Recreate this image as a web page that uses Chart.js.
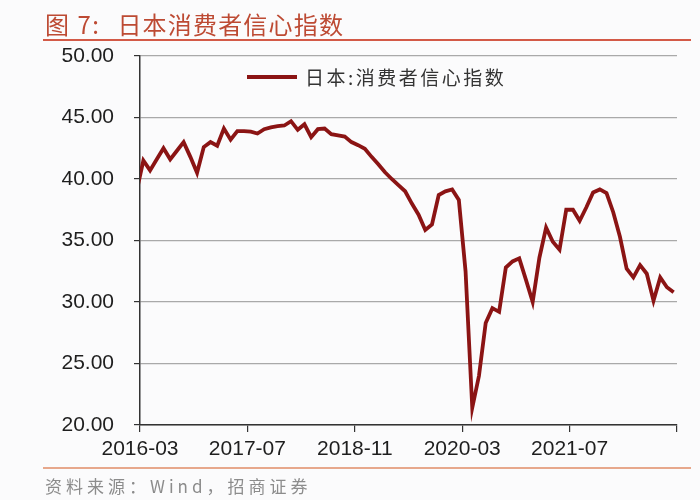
<!DOCTYPE html>
<html>
<head>
<meta charset="utf-8">
<script src="https://cdn.jsdelivr.net/npm/chart.js@4.4.1/dist/chart.umd.min.js"></script>
<style>
  body { margin: 0; background: #fbfbfc; }
  #wrap { position: relative; width: 700px; height: 500px; overflow: hidden; }
  #myChart { position: absolute; left: 0; top: 0; }
  .title { position: absolute; left: 45px; top: 6px; font: 24px "Noto Sans CJK SC", sans-serif; color: #bd4a33; letter-spacing: 1.5px; white-space: nowrap; }
  .title b { font-weight: normal; margin-left: 17px; letter-spacing: 1.2px; }
  .rule-top { position: absolute; left: 43px; top: 39px; width: 648px; height: 2px; background: #d35a47; }
  .rule-bottom { position: absolute; left: 43px; top: 467px; width: 648px; height: 2px; background: #e7a88c; }
  .source { position: absolute; left: 45px; top: 473px; font: 17px "Noto Sans CJK SC", serif; color: #8c8c8c; letter-spacing: 4px; white-space: nowrap; }
  .legend { position: absolute; left: 247px; top: 63px; white-space: nowrap; }
  .legend .swatch { display: inline-block; width: 50px; height: 4px; background: #8b1414; vertical-align: middle; margin-right: 8px; }
  .legend span { font: 19px "Noto Sans CJK SC", sans-serif; color: #333; letter-spacing: 2.5px; vertical-align: middle; }
</style>
</head>
<body>
<div id="wrap">
  <canvas id="myChart" width="700" height="500"></canvas>
  <div class="title">图 7:<b>日本消费者信心指数</b></div>
  <div class="rule-top"></div>
  <div class="legend"><i class="swatch"></i><span>日本:消费者信心指数</span></div>
  <div class="rule-bottom"></div>
  <div class="source">资料来源：Wind，招商证券</div>
</div>
<script>
// 月度数据, 从 2016-02 开始 (第一个点在坐标轴左侧, 被裁掉)
const firstMonth = '2016-02';
const confidence = [
    39.0,
    41.5, 40.7, 41.6, 42.5, 41.6, 42.3, 43.0, 41.8, 40.5, 42.6, 43.0, 42.7,
    44.1, 43.2, 43.9, 43.9, 43.85, 43.7, 44.05, 44.2, 44.3, 44.35, 44.7, 44.0,
    44.45, 43.4, 44.05, 44.1, 43.65, 43.55, 43.45, 43.0, 42.75, 42.45, 41.8, 41.2,
    40.55, 40.0, 39.5, 39.0, 38.0, 37.1, 35.85, 36.3, 38.7, 39.0, 39.15, 38.3,
    32.5, 21.4, 24.0, 28.3, 29.5, 29.2, 32.8, 33.3, 33.55, 31.8, 30.0, 33.6,
    36.05, 34.9, 34.25, 37.5, 37.5, 36.6, 37.7, 38.9, 39.15, 38.85, 37.3, 35.3,
    32.7, 32.0, 33.0, 32.3, 30.1, 32.0, 31.2, 30.8
];
const tickLabels = ['2016-03', '2017-07', '2018-11', '2020-03', '2021-07', ''];
const yTicks = [20, 25, 30, 35, 40, 45, 50];

// 每个月的点落在月份中间: 2016-02 -> -0.5, 2016-03 -> 0.5 ...
const points = confidence.map((v, i) => ({ x: i - 0.5, y: v }));

const ctx = document.getElementById('myChart').getContext('2d');
const myChart = new Chart(ctx, {
    type: 'line',
    data: {
        datasets: [
            {
                label: '日本:消费者信心指数',
                data: points,
                borderColor: '#8b1414',
                borderWidth: 3.8,
                pointRadius: 0,
                tension: 0,
                fill: false
            }
        ]
    },
    options: {
        responsive: false,
        animation: false,
        layout: { padding: { top: 56, right: 23, left: 0, bottom: 0 } },
        plugins: {
            legend: { display: false },
            tooltip: { enabled: false }
        },
        scales: {
            x: {
                type: 'linear',
                min: 0,
                max: 80,
                afterFit: function (scale) { scale.height = 75; },
                grid: { drawOnChartArea: false, color: '#333', tickLength: 7, lineWidth: 1.2 },
                border: { color: '#333', width: 1.5 },
                ticks: {
                    stepSize: 16,
                    autoSkip: false,
                    maxRotation: 0,
                    padding: 5,
                    color: '#1e1e1e',
                    font: { family: '"Liberation Sans", Arial, sans-serif', size: 21 },
                    callback: function (value) { return tickLabels[Math.round(value / 16)]; }
                }
            },
            y: {
                min: yTicks[0],
                max: yTicks[yTicks.length - 1],
                afterFit: function (scale) { scale.width = 140; },
                grid: { color: '#a9a9a9', tickColor: '#333', tickLength: 6, lineWidth: 1.2 },
                border: { color: '#333', width: 1.5 },
                ticks: {
                    stepSize: 5,
                    padding: 20,
                    color: '#1e1e1e',
                    font: { family: '"Liberation Sans", Arial, sans-serif', size: 21 },
                    callback: function (value) { return value.toFixed(2); }
                }
            }
        }
    }
});
</script>
</body>
</html>
